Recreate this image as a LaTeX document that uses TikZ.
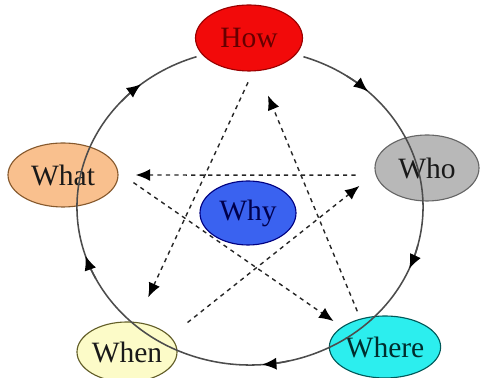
\documentclass[tikz,border=0pt]{standalone}
\usepackage{fontspec}
\setmainfont{Liberation Serif}
\usetikzlibrary{calc, arrows.meta, shapes.geometric}

\definecolor{howred}{HTML}{F20A0A}
\definecolor{whatorange}{HTML}{F9C08E}
\definecolor{whogray}{HTML}{B8B8B8}
\definecolor{whyblue}{HTML}{3A62F0}
\definecolor{whenyellow}{HTML}{FCFBC8}
\definecolor{wherecyan}{HTML}{2CEEEE}

\begin{document}
\begin{tikzpicture}[scale=1.0,
  wnode/.style={ellipse, draw, line width=0.8pt, inner sep=0pt,
    font=\fontsize{21}{24}\selectfont},
  dasharrow/.style={dashed, line width=1pt, draw=black!85,
    -{Latex[length=3.6mm,width=3mm,black]}},
  ring/.style={line width=1.1pt, draw=black!70}]
  \useasboundingbox (0,0) rectangle (12,9.45);
  \coordinate (O) at (6.25,4.275);
  \pgfmathsetmacro{\rx}{4.325}
  \pgfmathsetmacro{\ry}{3.95}
  % the six questions
  \node[wnode, fill=howred, draw=red!60!black, text=red!40!black,
    minimum width=2.675cm, minimum height=1.65cm] (how) at (6.225,8.5) {How};
  \node[wnode, fill=whatorange, draw=brown!70!black, text=black!90,
    minimum width=2.75cm, minimum height=1.6cm] (what) at (1.575,5.075) {What};
  \node[wnode, fill=whogray, draw=black!60, text=black!90,
    minimum width=2.6cm, minimum height=1.65cm] (who) at (10.675,5.25) {Who};
  \node[wnode, fill=whyblue, draw=blue!50!black, text=blue!30!black,
    minimum width=2.4cm, minimum height=1.6cm] (why) at (6.2,4.125) {Why};
  \node[wnode, fill=whenyellow, draw=olive!60!black, text=black!90,
    minimum width=2.5cm, minimum height=1.5cm] (when) at (3.175,0.65) {When};
  \node[wnode, fill=wherecyan, draw=teal!70!black, text=teal!35!black,
    minimum width=2.65cm, minimum height=1.55cm] (where) at (9.625,0.775) {Where};
  % outer ring, clockwise
  \draw[ring] (O) ++(72:\rx cm and \ry cm)
    arc[start angle=72, end angle=-252, x radius=\rx cm, y radius=\ry cm];
  \foreach \t in {49,-21,-84,-160,-229} {
    \draw[ring, -{Latex[length=3.6mm,width=3mm,black]}] (O) ++(\t+7:\rx cm and \ry cm)
      arc[start angle=\t+7, end angle=\t-2, x radius=\rx cm, y radius=\ry cm];
  }
  % star
  \draw[dasharrow, shorten <=0.3cm, shorten >=0.68cm] (how.-83) -- (when.72);
  \draw[dasharrow, shorten <=0.2cm, shorten >=0.66cm] (where.131) -- (how.-75);
  \draw[dasharrow, shorten <=0.46cm, shorten >=0.25cm] (what.3) -- (where.155);
  \draw[dasharrow, shorten <=0.5cm, shorten >=0.43cm] (who.188) -- (what.0);
  \draw[dasharrow, shorten <=0.55cm, shorten >=0.5cm] (when.20) -- (who.186);
\end{tikzpicture}
\end{document}
